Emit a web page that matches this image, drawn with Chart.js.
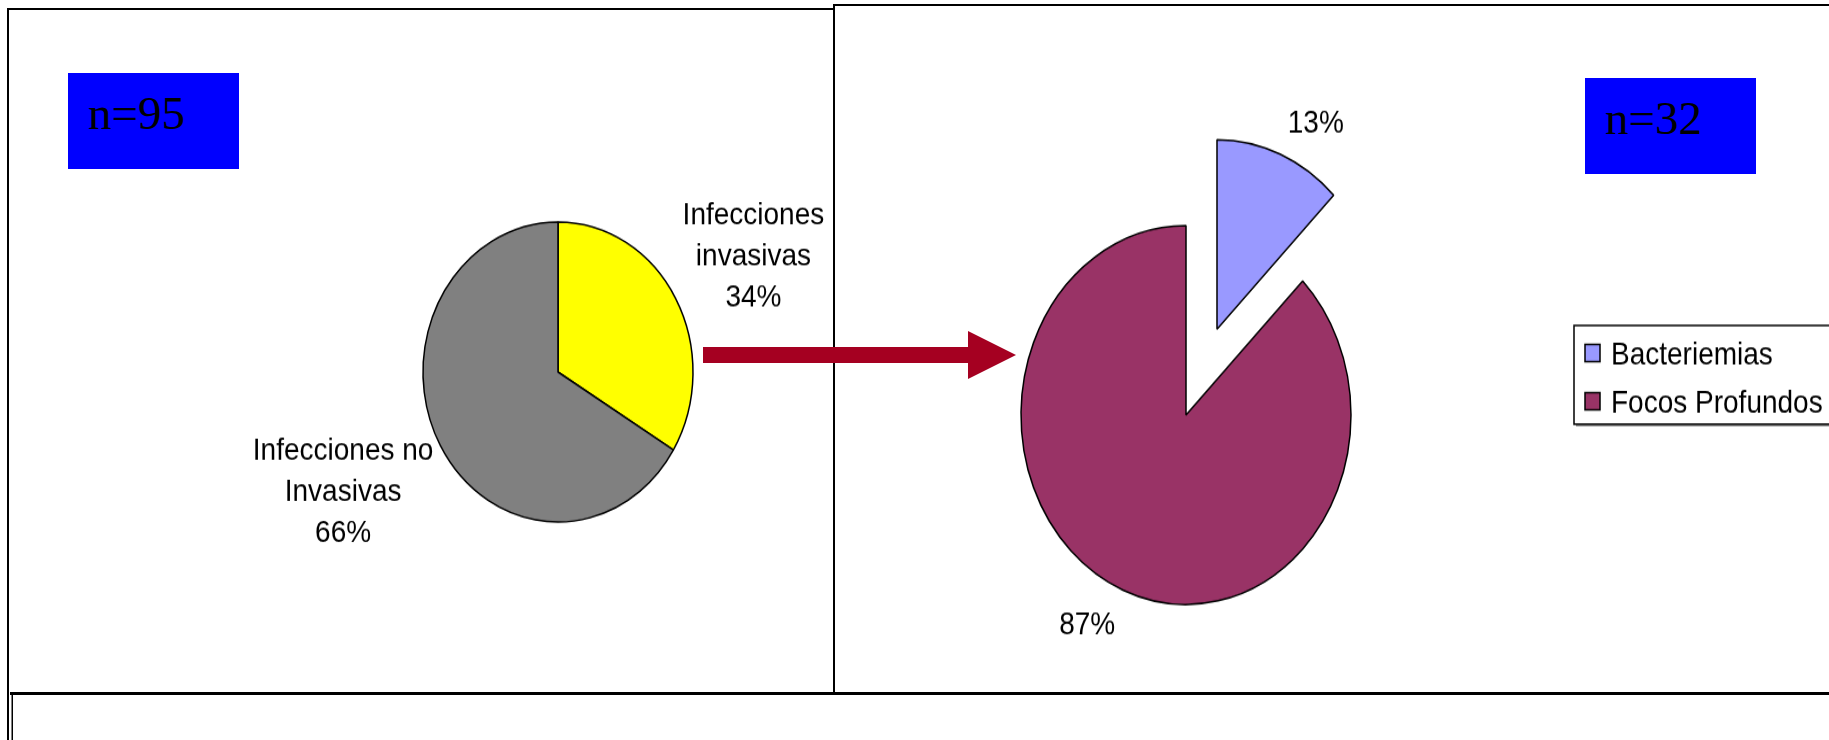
<!DOCTYPE html>
<html>
<head>
<meta charset="utf-8">
<script src="https://cdn.jsdelivr.net/npm/chart.js@4.4.1/dist/chart.umd.min.js"></script>
<style>
  html, body { margin: 0; padding: 0; background: #fff; }
  body { width: 1829px; height: 740px; overflow: hidden; position: relative; }
  #deco { position: absolute; left: 0; top: 0; }
  .pie { position: absolute; transform-origin: 50% 50%; }
  /* the source picture is stretched vertically, so the pies are ellipses */
  #leftWrap { left: 200px; top: 132px; width: 716px; height: 480px; transform: scaleY(1.111); }
  #rightWrap { left: 840px; top: 135px; width: 989px; height: 560px; transform: scaleY(1.148); }
</style>
</head>
<body>
<svg id="deco" width="1829" height="740">
  <g fill="#000">
    <rect x="7" y="8" width="827" height="2"/>
    <rect x="833" y="4" width="996" height="2"/>
    <rect x="7" y="8" width="2" height="732"/>
    <rect x="833" y="4" width="2" height="690"/>
    <rect x="10" y="692" width="1819" height="3"/>
    <rect x="11.5" y="692" width="1.5" height="48"/>
  </g>
  <rect x="68" y="73" width="171" height="96" fill="#0000FF"/>
  <text id="nLeft" x="88" y="129" font-family="'Liberation Serif','Times New Roman',serif" font-size="47" fill="#000"></text>
  <rect x="1585" y="78" width="171" height="96" fill="#0000FF"/>
  <text id="nRight" x="1605" y="134" font-family="'Liberation Serif','Times New Roman',serif" font-size="47" fill="#000"></text>
  <polygon points="703,347 968,347 968,331 1016,355 968,379 968,363 703,363" fill="#A50021"/>
</svg>
<div class="pie" id="leftWrap"><canvas id="left"></canvas></div>
<div class="pie" id="rightWrap"><canvas id="right"></canvas></div>
<script>
// left pie: all infections (n=95)
var leftLabels = [['Infecciones', 'invasivas'], ['Infecciones no', 'Invasivas']];
var leftValues = [32, 63];
var leftPercent = ['34%', '66%'];
var leftColors = ['#FFFF00', '#808080'];

// right pie: invasive infections (n=32)
var rightLabels = ['Bacteriemias', 'Focos Profundos'];
var rightValues = [4, 28];
var rightPercent = ['13%', '87%'];
var rightColors = ['#9999FF', '#993366'];

var labelFont = '28px "Liberation Sans", Arial, sans-serif';
var capHeight = 20;

function sum(a) { return a.reduce(function (s, v) { return s + v; }, 0); }
document.getElementById('nLeft').textContent = 'n=' + sum(leftValues);
document.getElementById('nRight').textContent = 'n=' + sum(rightValues);

// same maths chart.js uses when it draws an exploded arc
function explodeShift(arc) {
    var off = ((arc.options && arc.options.offset) || 0) / 4;
    var fix = 1 - Math.sin(Math.min(Math.PI, arc.circumference || 0));
    return { move: off, grow: off * fix };
}

// chart.js makes an exploded slice bigger and a bit narrower, undo that
var keepRadius = {
    id: 'keepRadius',
    afterDatasetUpdate: function (chart, args) {
        var R = args.meta.controller.outerRadius;
        args.meta.data.forEach(function (arc) {
            var s = explodeShift(arc);
            if (!s.grow) return;
            arc.outerRadius = R - s.grow;
            var trim = s.grow / Math.PI / R / 2;
            arc.startAngle -= trim;
            arc.endAngle += trim;
        });
    }
};

function sliceLabels(lines, gap, squeeze, lineHeight) {
    return {
        id: 'sliceLabels',
        afterDatasetsDraw: function (chart) {
            var ctx = chart.ctx;
            var meta = chart.getDatasetMeta(0);
            var R = meta.controller.outerRadius + gap;
            ctx.save();
            ctx.font = labelFont;
            ctx.fillStyle = '#000';
            ctx.textAlign = 'center';
            ctx.textBaseline = 'alphabetic';
            meta.data.forEach(function (arc, i) {
                var txt = lines[i];
                var mid = (arc.startAngle + arc.endAngle) / 2;
                var cos = Math.cos(mid), sin = Math.sin(mid);
                var m = explodeShift(arc).move;
                var px = arc.x + cos * (m + R);
                var py = arc.y + sin * m + sin * R * squeeze;
                var w = Math.max.apply(null, txt.map(function (t) { return ctx.measureText(t).width; }));
                var h = (txt.length - 1) * lineHeight + capHeight;
                var left = cos >= 0 ? px : px - w;
                var top = sin >= 0 ? py : py - h;
                txt.forEach(function (t, j) {
                    ctx.fillText(t, left + w / 2, top + capHeight + j * lineHeight);
                });
            });
            ctx.restore();
        }
    };
}

function boxLegend(o) {
    return {
        id: 'boxLegend',
        afterDraw: function (chart) {
            var ctx = chart.ctx;
            var ds = chart.data.datasets[0];
            ctx.save();
            ctx.fillStyle = '#999';
            ctx.fillRect(o.x + 2, o.y + o.h, o.w, 2);
            ctx.fillStyle = '#fff';
            ctx.fillRect(o.x, o.y, o.w, o.h);
            ctx.lineWidth = 1.5;
            ctx.strokeStyle = '#000';
            ctx.strokeRect(o.x, o.y, o.w, o.h);
            ctx.font = labelFont;
            ctx.textAlign = 'left';
            ctx.textBaseline = 'alphabetic';
            chart.data.labels.forEach(function (lab, i) {
                var cy = o.y + o.rowTop + i * o.rowH;
                ctx.fillStyle = ds.backgroundColor[i];
                ctx.fillRect(o.x + 11, cy - 7.5, 15, 15);
                ctx.strokeRect(o.x + 11, cy - 7.5, 15, 15);
                ctx.fillStyle = '#000';
                ctx.fillText(lab, o.x + 37, cy + capHeight / 2);
            });
            ctx.restore();
        }
    };
}

new Chart(document.getElementById('left'), {
    type: 'pie',
    data: {
        labels: leftLabels,
        datasets: [{
            data: leftValues,
            backgroundColor: leftColors,
            borderColor: '#000',
            borderWidth: 1.5
        }]
    },
    options: {
        responsive: true,
        maintainAspectRatio: false,
        animation: false,
        events: [],
        radius: 135,
        plugins: { legend: { display: false }, tooltip: { enabled: false } }
    },
    plugins: [sliceLabels(leftLabels.map(function (l, i) { return l.concat(leftPercent[i]); }), 8, 0.84, 37)]
});

new Chart(document.getElementById('right'), {
    type: 'pie',
    data: {
        labels: rightLabels,
        datasets: [{
            data: rightValues,
            backgroundColor: rightColors,
            borderColor: '#000',
            borderWidth: 1.5,
            offset: [324, 0]
        }]
    },
    options: {
        responsive: true,
        maintainAspectRatio: false,
        animation: false,
        events: [],
        radius: 165,
        layout: { padding: { right: 297 } },
        plugins: { legend: { display: false }, tooltip: { enabled: false } }
    },
    plugins: [
        keepRadius,
        sliceLabels(rightPercent.map(function (p) { return [p]; }), 20, 1, 37),
        boxLegend({ x: 734, y: 202, w: 300, h: 86, rowTop: 24, rowH: 42 })
    ]
});
</script>
</body>
</html>
